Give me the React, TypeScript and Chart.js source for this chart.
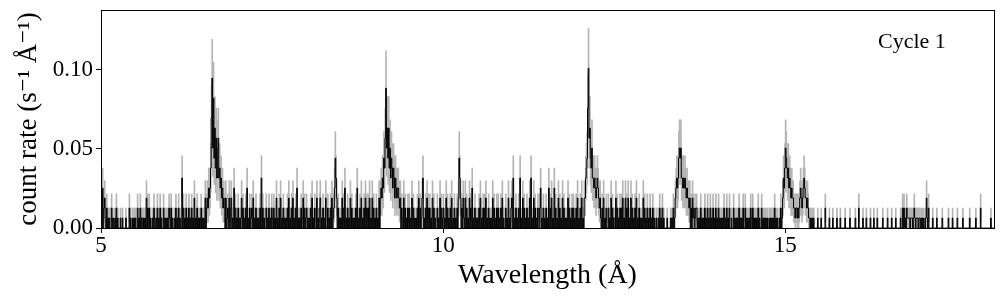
import { useEffect, useRef } from "react";
import { Chart, registerables } from "chart.js";

Chart.register(...registerables);

// ---- axis settings ----
const X_MIN = 5;
const X_MAX = 18.05;
const Y_MIN = 0;
const Y_MAX = 0.1375;
const xTicks = [5, 10, 15];
const yTicks = [0, 0.05, 0.1];
const xTitle = "Wavelength (Å)";
const yTitle = "count rate (s⁻¹ Å⁻¹)";
const panelLabel = "Cycle 1";

// ---- spectrum ----
// counts per 0.01 Å bin (one string per 1 Å);
// characters are base-36 digits: 0-9, a=10 ... g=16
const BIN_WIDTH = 0.01;
const RATE_PER_COUNT = 0.0063; // count rate (s^-1 Å^-1) of one count in a bin

const counts05 = ["3040231020", "1010020100", "1020100010", "0100001000", "0201001010", "1002010201", "1010103020", "2010010200", "1020102010", "0201010102"].join("");
const counts06 = ["1020100102", "0102010050", "2010201020", "1020103010", "2010102010", "1030232434", "6bf8d7a695", "8956453423", "2030120302", "3010402010"].join("");
const counts07 = ["2010130201", "0204010201", "2030102010", "1020502010", "0201020102", "1020103010", "2030102010", "1020301020", "3010204010", "1020130201"].join("");
const counts08 = ["2010102030", "1020030102", "3010201030", "0201020301", "2475302010", "1030204010", "2010302010", "1020401020", "3010203020", "2030103020"].join("");
const counts09 = ["1020103034", "354769e8a7", "a685764653", "5434432302", "1030201020", "2010302010", "1020302013", "5010203020", "2010302010", "0201030201"].join("");
const counts10 = ["2010302010", "2030102010", "2037530203", "1030201030", "2040102010", "1020301020", "2030102010", "1030201020", "2010203010", "0201030102"].join("");
const counts11 = ["3050102010", "2050103020", "1020103050", "1030201020", "0240102010", "2010402030", "1040201030", "2010302010", "1030201020", "2010203010"].join("");
const counts12 = ["2030103356", "7cg9a76855", "4543454323", "1020301020", "0201030201", "1030201020", "2030103020", "3010302010", "2030102010", "1030201020"].join("");
const counts13 = ["1020102010", "0100102010", "2010000100", "0010102013", "4545787855", "4545434332", "3020312012", "2010102010", "1020102010", "2010201020"].join("");
const counts14 = ["1020101010", "2010201020", "0100201010", "1020101020", "0201010102", "1020101010", "2010020101", "0101001010", "1010201010", "0102013546"].join("");
const counts15 = ["8765645434", "3322122121", "2343234543", "3232110101", "0100000100", "0010000020", "0000100001", "0000010000", "1000000100", "0000100000"].join("");
const counts16 = ["0010000200", "0001000010", "0000100001", "0000100000", "0010000001", "0000010000", "0100000010", "0202010211", "1101110121", "0111011010"].join("");
const counts17 = ["1010013102", "0000010000", "0100000001", "0000000010", "0000100000", "0100000001", "0000000001", "0000000010", "0000020000", "0000000000", "10000"].join("");

const segmentStarts = [5, 6, 7, 8, 9, 10, 11, 12, 13, 14, 15, 16, 17];
const segmentCounts = [counts05, counts06, counts07, counts08, counts09, counts10, counts11, counts12, counts13, counts14, counts15, counts16, counts17];

type Bin = { x: number; n: number };
const bins: Bin[] = [];
segmentStarts.forEach((start, k) => {
  const s = segmentCounts[k];
  for (let i = 0; i < s.length; i++) {
    bins.push({ x: start + (i + 0.5) * BIN_WIDTH, n: parseInt(s[i], 36) });
  }
});

const lineData = bins.map((b) => ({ x: b.x, y: b.n * RATE_PER_COUNT }));
const errData = bins
  .filter((b) => b.n > 0)
  .map((b) => ({
    x: b.x,
    y: [(b.n - Math.sqrt(b.n)) * RATE_PER_COUNT, (b.n + Math.sqrt(b.n)) * RATE_PER_COUNT],
  }));

const FONT = "'Liberation Serif', 'DejaVu Serif', 'Times New Roman', serif";

const framePlugin = {
  id: "frame",
  afterDraw(chart: any) {
    const { ctx, chartArea: a } = chart;
    ctx.save();
    ctx.strokeStyle = "#000";
    ctx.lineWidth = 1;
    const l = Math.round(a.left - 0.5) + 0.5;
    const t = Math.round(a.top - 0.5) + 0.5;
    const r = Math.round(a.right - 0.5) + 0.5;
    const b = Math.round(a.bottom - 0.5) + 0.5;
    ctx.strokeRect(l, t, r - l, b - t);
    ctx.restore();
  },
};

const labelPlugin = {
  id: "panelLabel",
  afterDraw(chart: any) {
    const { ctx, chartArea: a } = chart;
    ctx.save();
    ctx.font = `22px ${FONT}`;
    ctx.fillStyle = "#000";
    ctx.textBaseline = "alphabetic";
    ctx.textAlign = "left";
    ctx.fillText(panelLabel, a.right - 116, a.top + 38);
    ctx.restore();
  },
};

export default function App() {
  const ref = useRef<HTMLCanvasElement | null>(null);

  useEffect(() => {
    if (!ref.current) return;
    const tickFont = { family: FONT, size: 23 };
    const chart = new Chart(ref.current, {
      type: "bar",
      data: {
        datasets: [
          {
            type: "line",
            data: lineData,
            borderColor: "#000",
            borderWidth: 1,
            pointRadius: 0,
            stepped: "middle",
            fill: false,
            order: 0,
          } as any,
          {
            type: "bar",
            data: errData as any,
            backgroundColor: "#b4b4b4",
            borderWidth: 0,
            barThickness: 1,
            grouped: false,
            order: 1,
          } as any,
        ],
      },
      options: {
        animation: false,
        responsive: false,
        devicePixelRatio: 1,
        events: [],
        layout: { padding: { top: 10, right: 10, left: 0, bottom: 0 } },
        plugins: { legend: { display: false }, tooltip: { enabled: false } },
        scales: {
          x: {
            type: "linear",
            min: X_MIN,
            max: X_MAX,
            offset: false,
            afterBuildTicks: (axis: any) => {
              axis.ticks = xTicks.map((v) => ({ value: v }));
            },
            afterFit: (s: any) => {
              s.height = 71;
              s.paddingLeft = 0;
              s.paddingRight = 0;
            },
            grid: { display: true, offset: false, drawOnChartArea: false, drawTicks: true, tickLength: 5, color: "#000", lineWidth: 1 },
            border: { display: false },
            ticks: { font: tickFont, color: "#000", padding: -1, maxRotation: 0, autoSkip: false, callback: (v: any) => String(v) },
            title: { display: true, text: xTitle, font: { family: FONT, size: 28 }, color: "#000", padding: { top: 0, bottom: 7 } },
          },
          y: {
            type: "linear",
            min: Y_MIN,
            max: Y_MAX,
            afterBuildTicks: (axis: any) => {
              axis.ticks = yTicks.map((v) => ({ value: v }));
            },
            afterFit: (s: any) => {
              s.width = 101;
              s.paddingTop = 0;
              s.paddingBottom = 0;
            },
            grid: { display: true, drawOnChartArea: false, drawTicks: true, tickLength: 5, color: "#000", lineWidth: 1 },
            border: { display: false },
            ticks: { font: tickFont, color: "#000", padding: 3, callback: (v: any) => Number(v).toFixed(2) },
            title: { display: true, text: yTitle, font: { family: FONT, size: 27 }, color: "#000", padding: { top: 13, bottom: 0 } },
          },
        },
      },
      plugins: [framePlugin, labelPlugin],
    });
    return () => chart.destroy();
  }, []);

  return (
    <div style={{ position: "absolute", left: 0, top: 0, width: 1004, height: 299, background: "#fff" }}>
      <canvas ref={ref} width={1004} height={299} />
    </div>
  );
}
